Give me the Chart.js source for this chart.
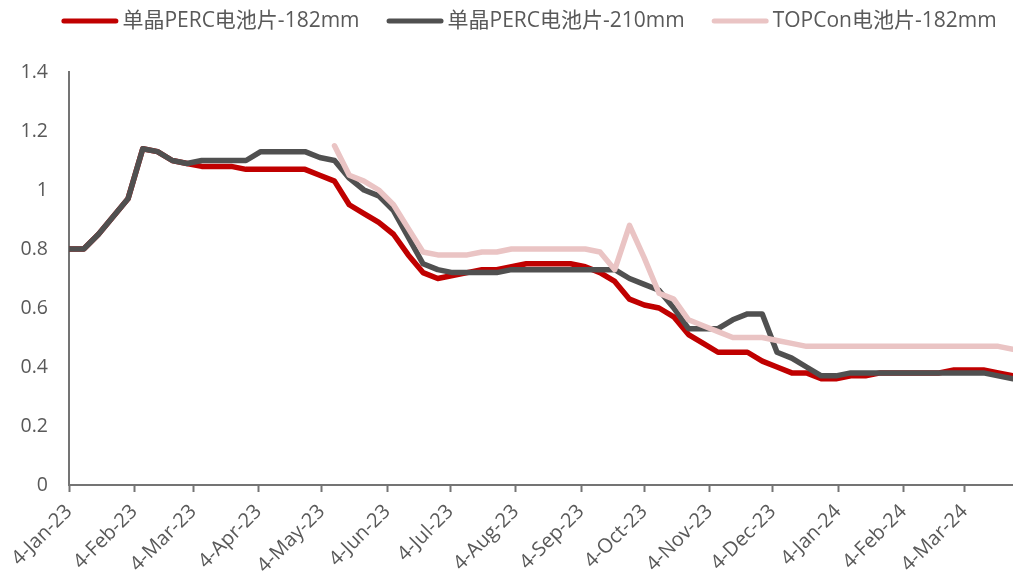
<!DOCTYPE html>
<html>
<head>
<meta charset="utf-8">
<script src="https://cdn.jsdelivr.net/npm/chart.js@4/dist/chart.umd.min.js"></script>
<style>
  html, body { margin: 0; padding: 0; background: #ffffff; }
  #wrap { width: 1013px; height: 580px; }
</style>
</head>
<body>
<div id="wrap"><canvas id="cv" width="1013" height="580"></canvas></div>
<script>
// Weekly observation dates
const weekDates = [
  '2023-01-04','2023-01-11','2023-01-18','2023-01-25',
  '2023-02-01','2023-02-08','2023-02-15','2023-02-22',
  '2023-03-01','2023-03-08','2023-03-15','2023-03-22','2023-03-29',
  '2023-04-05','2023-04-12','2023-04-19','2023-04-26',
  '2023-05-03','2023-05-10','2023-05-17','2023-05-24','2023-05-31',
  '2023-06-07','2023-06-14','2023-06-21','2023-06-28',
  '2023-07-05','2023-07-12','2023-07-19','2023-07-26',
  '2023-08-02','2023-08-09','2023-08-16','2023-08-23','2023-08-30',
  '2023-09-06','2023-09-13','2023-09-20','2023-09-27',
  '2023-10-04','2023-10-11','2023-10-18','2023-10-25',
  '2023-11-01','2023-11-08','2023-11-15','2023-11-22','2023-11-29',
  '2023-12-06','2023-12-13','2023-12-20','2023-12-27',
  '2024-01-03','2024-01-10','2024-01-17','2024-01-24','2024-01-31',
  '2024-02-07','2024-02-14','2024-02-21','2024-02-28',
  '2024-03-06','2024-03-13','2024-03-20','2024-03-27'
];

// 单晶PERC电池片-182mm (元/W)
const perc182 = [
  0.80, 0.80, 0.85, 0.91,
  0.97, 1.14, 1.13, 1.10,
  1.09, 1.08, 1.08, 1.08, 1.07,
  1.07, 1.07, 1.07, 1.07,
  1.05, 1.03, 0.95, 0.92, 0.89,
  0.85, 0.78, 0.72, 0.70,
  0.71, 0.72, 0.73, 0.73,
  0.74, 0.75, 0.75, 0.75, 0.75,
  0.74, 0.72, 0.69, 0.63,
  0.61, 0.60, 0.57, 0.51,
  0.48, 0.45, 0.45, 0.45, 0.42,
  0.40, 0.38, 0.38, 0.36,
  0.36, 0.37, 0.37, 0.38, 0.38,
  0.38, 0.38, 0.38, 0.39,
  0.39, 0.39, 0.38, 0.37
];

// 单晶PERC电池片-210mm (元/W)
const perc210 = [
  0.80, 0.80, 0.85, 0.91,
  0.97, 1.14, 1.13, 1.10,
  1.09, 1.10, 1.10, 1.10, 1.10,
  1.13, 1.13, 1.13, 1.13,
  1.11, 1.10, 1.04, 1.00, 0.98,
  0.93, 0.84, 0.75, 0.73,
  0.72, 0.72, 0.72, 0.72,
  0.73, 0.73, 0.73, 0.73, 0.73,
  0.73, 0.73, 0.73, 0.70,
  0.68, 0.66, 0.60, 0.53,
  0.53, 0.53, 0.56, 0.58, 0.58,
  0.45, 0.43, 0.40, 0.37,
  0.37, 0.38, 0.38, 0.38, 0.38,
  0.38, 0.38, 0.38, 0.38,
  0.38, 0.38, 0.37, 0.36
];

// TOPCon电池片-182mm (元/W), quoted from May 2023
const topcon182 = [
  null, null, null, null,
  null, null, null, null,
  null, null, null, null, null,
  null, null, null, null,
  null, 1.15, 1.05, 1.03, 1.00,
  0.95, 0.87, 0.79, 0.78,
  0.78, 0.78, 0.79, 0.79,
  0.80, 0.80, 0.80, 0.80, 0.80,
  0.80, 0.79, 0.73, 0.88,
  0.77, 0.65, 0.63, 0.56,
  0.54, 0.52, 0.50, 0.50, 0.50,
  0.49, 0.48, 0.47, 0.47,
  0.47, 0.47, 0.47, 0.47, 0.47,
  0.47, 0.47, 0.47, 0.47,
  0.47, 0.47, 0.47, 0.46
];

const seriesNames = ['单晶PERC电池片-182mm', '单晶PERC电池片-210mm', 'TOPCon电池片-182mm'];
const seriesColors = ['#C00000', '#505050', '#EAC4C4'];

// Date axis tick labels and where they fall
const xTickDates = [
  '2023-01-04','2023-02-04','2023-03-04','2023-04-04','2023-05-04','2023-06-04',
  '2023-07-04','2023-08-04','2023-09-04','2023-10-04','2023-11-04','2023-12-04',
  '2024-01-04','2024-02-04','2024-03-04'
];
const xTickLabels = [
  '4-Jan-23','4-Feb-23','4-Mar-23','4-Apr-23','4-May-23','4-Jun-23',
  '4-Jul-23','4-Aug-23','4-Sep-23','4-Oct-23','4-Nov-23','4-Dec-23',
  '4-Jan-24','4-Feb-24','4-Mar-24'
];
const xAxisStart = '2023-01-04';
const xAxisEnd = '2024-03-27';
const yTickValues = [0, 0.2, 0.4, 0.6, 0.8, 1.0, 1.2, 1.4];

const DAY = 86400000;
const dayOf = d => Math.round((Date.parse(d) - Date.parse(xAxisStart)) / DAY);
const toPoints = vals => vals.map((v, i) => ({ x: dayOf(weekDates[i]), y: v }));

const textColor = '#595959';
const axisColor = '#747474';
const latinCjk = '"Open Sans", "Noto Sans CJK SC", sans-serif';

// Legend row across the top: line sample followed by the series name
const topLegend = {
  id: 'topLegend',
  afterDraw(chart) {
    const ctx = chart.ctx;
    const sample = 52, cap = 2.5, textGap = 4, itemGap = 27, cy = 21, centerX = 529;
    ctx.save();
    ctx.font = '21px ' + latinCjk;
    const items = chart.data.datasets.map(ds => ({
      label: ds.label, color: ds.borderColor, w: ctx.measureText(ds.label).width
    }));
    let total = 0;
    items.forEach((it, i) => {
      total += cap + sample + cap + textGap + it.w + (i < items.length - 1 ? itemGap : 0);
    });
    let x = centerX - total / 2;
    items.forEach(it => {
      ctx.strokeStyle = it.color;
      ctx.lineWidth = 5;
      ctx.lineCap = 'round';
      ctx.beginPath();
      ctx.moveTo(x + cap, cy);
      ctx.lineTo(x + cap + sample, cy);
      ctx.stroke();
      x += cap + sample + cap + textGap;
      ctx.fillStyle = textColor;
      ctx.textAlign = 'left';
      ctx.textBaseline = 'middle';
      ctx.fillText(it.label, x, cy);
      x += it.w + itemGap;
    });
    ctx.restore();
  }
};

const lineStyle = color => ({
  borderColor: color,
  backgroundColor: color,
  borderWidth: 5.5,
  pointRadius: 0,
  pointHoverRadius: 0,
  tension: 0,
  borderJoinStyle: 'round',
  borderCapStyle: 'round',
  spanGaps: false,
  fill: false
});

new Chart(document.getElementById('cv'), {
  type: 'line',
  data: {
    datasets: [
      Object.assign({ label: seriesNames[0], data: toPoints(perc182), order: 3 }, lineStyle(seriesColors[0])),
      Object.assign({ label: seriesNames[1], data: toPoints(perc210), order: 2 }, lineStyle(seriesColors[1])),
      Object.assign({ label: seriesNames[2], data: toPoints(topcon182), order: 1 }, lineStyle(seriesColors[2]))
    ]
  },
  options: {
    responsive: false,
    animation: false,
    events: [],
    layout: { padding: { top: 72, left: 0, right: 0, bottom: 0 } },
    plugins: {
      legend: { display: false },
      tooltip: { enabled: false }
    },
    scales: {
      x: {
        type: 'linear',
        min: 0,
        max: dayOf(xAxisEnd),
        afterBuildTicks: axis => { axis.ticks = xTickDates.map(d => ({ value: dayOf(d) })); },
        afterFit: axis => { axis.height = 95; },
        grid: {
          display: true,
          drawOnChartArea: false,
          drawTicks: true,
          tickLength: 7,
          tickWidth: 2,
          color: axisColor
        },
        border: { display: true, color: axisColor, width: 2 },
        ticks: {
          autoSkip: false,
          maxRotation: 45,
          minRotation: 45,
          padding: 8,
          color: textColor,
          font: { family: latinCjk, size: 20 },
          callback: (v, i) => xTickLabels[i]
        }
      },
      y: {
        min: 0,
        max: 1.4,
        afterBuildTicks: axis => { axis.ticks = yTickValues.map(v => ({ value: v })); },
        afterFit: axis => { axis.width = 69; },
        grid: { display: false, drawTicks: false },
        border: { display: true, color: axisColor, width: 2 },
        ticks: {
          padding: 21,
          color: textColor,
          font: { family: latinCjk, size: 19.5 },
          callback: v => String(Math.round(v * 10) / 10)
        }
      }
    }
  },
  plugins: [topLegend]
});
</script>
</body>
</html>
